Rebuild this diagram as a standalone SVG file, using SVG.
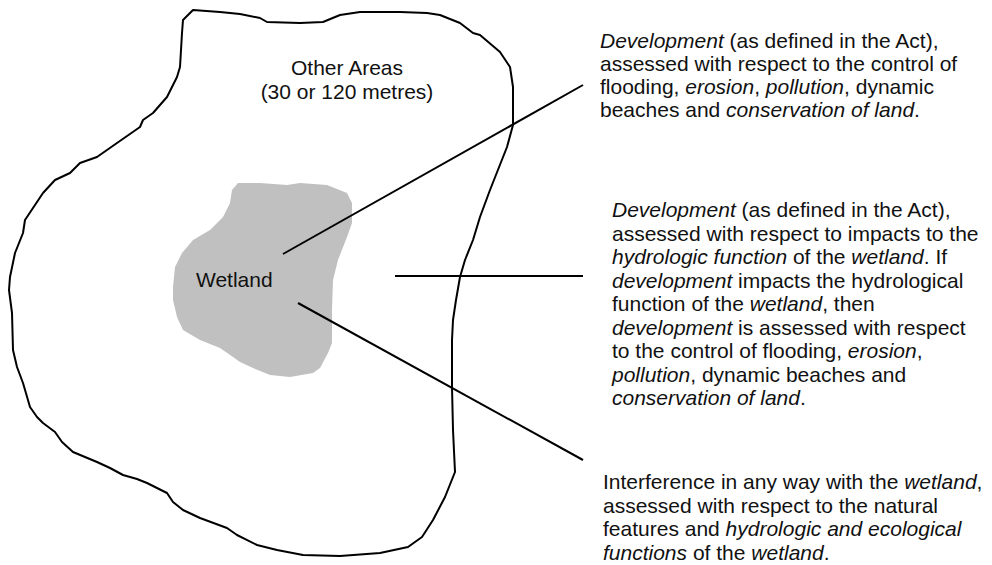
<svg xmlns="http://www.w3.org/2000/svg" width="992" height="565" viewBox="0 0 992 565">
<style>
.bg{fill:#ffffff}
.outline{fill:none;stroke:#000;stroke-width:2;stroke-linejoin:round}
.wet{fill:#c0c0c0;stroke:none}
.conn{stroke:#000;stroke-width:2;fill:none}
text{font-family:"Liberation Sans",Arial,sans-serif;font-size:21px;fill:#111}
.i{font-style:italic}
</style>
<rect class="bg" x="0" y="0" width="992" height="565"/>
<g id="other-areas">
<polygon class="outline" points="193,10 220,12 240,14 260,18 267,22 300,23 323,22 340,15 360,12 400,12 427,13 440,15 460,23 473,33 480,35 500,52 510,67 513,87 513,125 507,147 490,190 480,217 473,240 465,260 460,277 456,300 453,320 452,340 452,387 453,430 455,472 445,497 433,520 422,537 408,547 380,553 340,556 303,555 277,550 257,545 237,535 227,528 200,518 183,510 173,502 167,493 147,483 137,479 123,475 110,468 97,462 73,452 62,442 55,432 43,423 37,417 30,407 23,383 17,367 13,350 12,313 9,290 10,277 15,253 23,233 25,220 43,193 55,180 70,173 80,163 97,157 117,143 140,127 143,120 153,113 167,97 177,77 180,67 182,33 183,20"/>
<text x="347" y="75" text-anchor="middle">Other Areas</text>
<text x="347" y="99" text-anchor="middle">(30 or 120 metres)</text>
</g>
<g id="wetland">
<polygon class="wet" points="238,183 260,183 287,185 300,183 327,185 347,193 352,203 352,223 347,237 338,260 333,280 332,310 332,343 328,353 320,368 313,373 290,377 270,375 253,368 240,362 233,357 220,348 200,340 183,330 177,317 173,300 173,287 175,267 182,253 193,240 210,230 223,217 230,203 232,190"/>
<text x="196" y="287">Wetland</text>
</g>
<g id="connectors">
<line class="conn" x1="283" y1="254" x2="583" y2="85"/>
<line class="conn" x1="395" y1="276" x2="583" y2="276"/>
<line class="conn" x1="298" y1="303" x2="583" y2="460"/>
</g>
<g id="note-other-areas">
<text x="600" y="48"><tspan class="i">Development</tspan> (as defined in the Act),</text>
<text x="600" y="71">assessed with respect to the control of</text>
<text x="600" y="94">flooding, <tspan class="i">erosion</tspan>, <tspan class="i">pollution</tspan>, dynamic</text>
<text x="600" y="117">beaches and <tspan class="i">conservation of land</tspan>.</text>
</g>
<g id="note-development">
<text x="612" y="217"><tspan class="i">Development</tspan> (as defined in the Act),</text>
<text x="612" y="240.5">assessed with respect to impacts to the</text>
<text x="612" y="264"><tspan class="i">hydrologic function</tspan> of the <tspan class="i">wetland</tspan>. If</text>
<text x="612" y="287.5"><tspan class="i">development</tspan> impacts the hydrological</text>
<text x="612" y="311">function of the <tspan class="i">wetland</tspan>, then</text>
<text x="612" y="334.5"><tspan class="i">development</tspan> is assessed with respect</text>
<text x="612" y="358">to the control of flooding, <tspan class="i">erosion</tspan>,</text>
<text x="612" y="381.5"><tspan class="i">pollution</tspan>, dynamic beaches and</text>
<text x="612" y="405"><tspan class="i">conservation of land</tspan>.</text>
</g>
<g id="note-interference">
<text x="603" y="489">Interference in any way with the <tspan class="i">wetland</tspan>,</text>
<text x="603" y="512.5">assessed with respect to the natural</text>
<text x="603" y="536">features and <tspan class="i">hydrologic and ecological</tspan></text>
<text x="603" y="559.5"><tspan class="i">functions</tspan> of the <tspan class="i">wetland</tspan>.</text>
</g>
</svg>
